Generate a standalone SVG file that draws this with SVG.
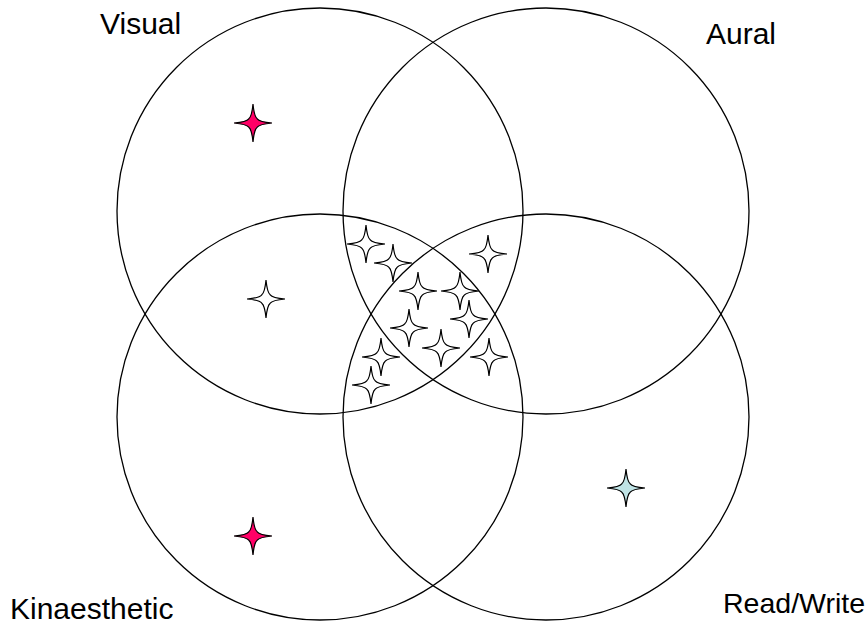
<svg xmlns="http://www.w3.org/2000/svg" xmlns:xlink="http://www.w3.org/1999/xlink" width="868" height="624" viewBox="0 0 868 624">
<style>
.set{fill:none;stroke:#000;stroke-width:1.3}
.lbl{font-family:"Liberation Sans",Arial,sans-serif;font-size:30px;fill:#000}
.star{stroke:#000;stroke-width:1.2;stroke-linejoin:miter}
.w{fill:#fff}
.r{fill:#FF0066}
.c{fill:#BFE3E5}
</style>
<defs>
<path id="st" d="M0,-19 Q1.2,-6.5 4.2,-4.2 Q6.5,-1.2 19,0 Q6.5,1.2 4.2,4.2 Q1.2,6.5 0,19 Q-1.2,6.5 -4.2,4.2 Q-6.5,1.2 -19,0 Q-6.5,-1.2 -4.2,-4.2 Q-1.2,-6.5 0,-19Z"/>
</defs>
<rect width="868" height="624" fill="#fff"/>
<g id="visual">
<circle class="set" cx="320" cy="211" r="203"/>
<text class="lbl" x="100" y="34">Visual</text>
</g>
<g id="aural">
<circle class="set" cx="546" cy="211" r="203"/>
<text class="lbl" x="706" y="44">Aural</text>
</g>
<g id="kinaesthetic">
<circle class="set" cx="320" cy="417" r="203"/>
<text class="lbl" x="10" y="619">Kinaesthetic</text>
</g>
<g id="readwrite">
<circle class="set" cx="546" cy="417" r="203"/>
<text class="lbl" x="723" y="613" style="font-size:28.5px">Read/Write</text>
</g>
<g id="connectors"/>
<g id="stars">
<use href="#st" xlink:href="#st" class="star r" x="253" y="123"/>
<use href="#st" xlink:href="#st" class="star r" x="253" y="536"/>
<use href="#st" xlink:href="#st" class="star c" x="626" y="488"/>
<use href="#st" xlink:href="#st" class="star w" x="266" y="299"/>
<use href="#st" xlink:href="#st" class="star w" x="366" y="244"/>
<use href="#st" xlink:href="#st" class="star w" x="393" y="263"/>
<use href="#st" xlink:href="#st" class="star w" x="488" y="254"/>
<use href="#st" xlink:href="#st" class="star w" x="418" y="291"/>
<use href="#st" xlink:href="#st" class="star w" x="460" y="291"/>
<use href="#st" xlink:href="#st" class="star w" x="469" y="319"/>
<use href="#st" xlink:href="#st" class="star w" x="409" y="328"/>
<use href="#st" xlink:href="#st" class="star w" x="441" y="348"/>
<use href="#st" xlink:href="#st" class="star w" x="381" y="357"/>
<use href="#st" xlink:href="#st" class="star w" x="489" y="357"/>
<use href="#st" xlink:href="#st" class="star w" x="371" y="385"/>
</g>
</svg>
